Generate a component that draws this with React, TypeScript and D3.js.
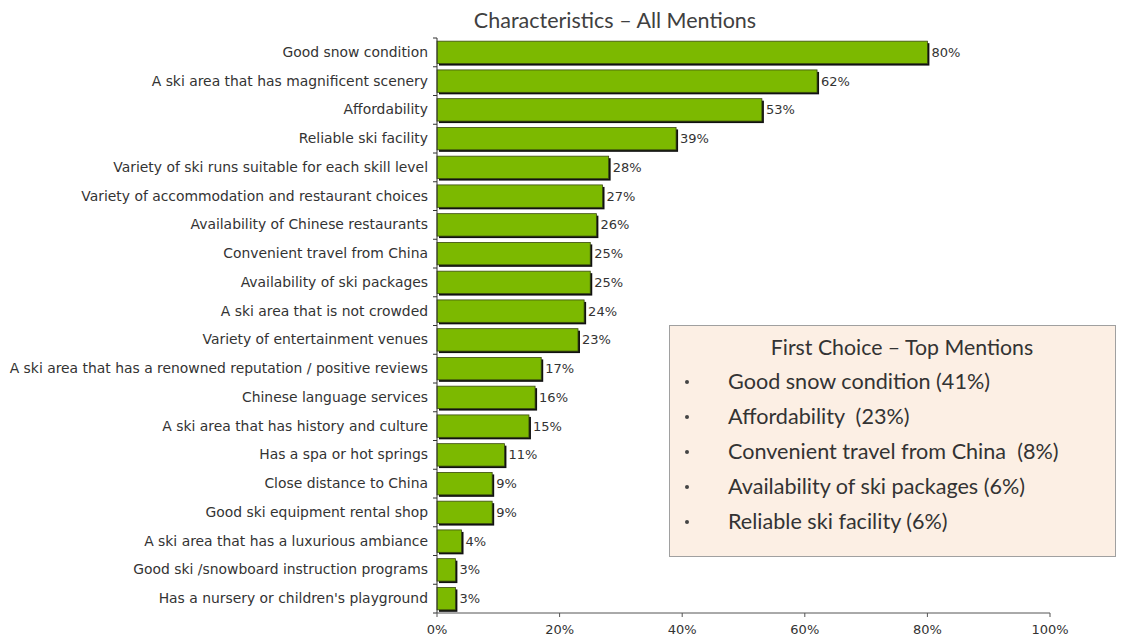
import React from "react";
import * as d3 from "d3";

const categories = [
  "Good snow condition",
  "A ski area that has magnificent scenery",
  "Affordability",
  "Reliable ski facility",
  "Variety of ski runs suitable for each skill level",
  "Variety of accommodation and restaurant choices",
  "Availability of Chinese restaurants",
  "Convenient travel from China",
  "Availability of ski packages",
  "A ski area that is not crowded",
  "Variety of entertainment venues",
  "A ski area that has a renowned reputation / positive reviews",
  "Chinese language services",
  "A ski area that has history and culture",
  "Has a spa or hot springs",
  "Close distance to China",
  "Good ski equipment rental shop",
  "A ski area that has a luxurious ambiance",
  "Good ski /snowboard instruction programs",
  "Has a nursery or children's playground",
];
const values = [80, 62, 53, 39, 28, 27, 26, 25, 25, 24, 23, 17, 16, 15, 11, 9, 9, 4, 3, 3];
const xTicks = [0, 20, 40, 60, 80, 100];
const title = "Characteristics \u2013 All Mentions";
const boxTitle = "First Choice \u2013 Top Mentions";
const boxItems = [
  "Good snow condition (41%)",
  "Affordability  (23%)",
  "Convenient travel from China  (8%)",
  "Availability of ski packages (6%)",
  "Reliable ski facility (6%)",
];

export default function App() {
  const W = 1126, H = 637;
  const x = d3.scaleLinear().domain([0, 100]).range([437, 1050]);
  const y = d3.scaleBand<string>().domain(categories).range([38, 613]).paddingInner(0.22).paddingOuter(0.11);
  const step = y.step();
  const font = "'DejaVu Sans', Verdana, sans-serif";
  const boxFont = "Lato, 'Open Sans', sans-serif";
  return (
    <svg width={W} height={H} style={{ position: "absolute", left: 0, top: 0, background: "#fff" }}>
      <text x={615} y={28} textAnchor="middle" fontFamily={boxFont} fontSize={21.5} fill="#404040">{title}</text>
      {categories.map((c, i) => {
        const y0 = y(c)!;
        const bw = x(values[i]) - x(0);
        return (
          <g key={c}>
            <rect x={x(0) + 2} y={y0 + 2} width={bw} height={y.bandwidth()} fill="#111" />
            <rect x={x(0)} y={y0} width={bw} height={y.bandwidth()} fill="#7cb900" stroke="#3a4a10" strokeWidth={0.8} />
            <text x={x(values[i]) + 4} y={y0 + y.bandwidth() / 2 + 4.5} fontFamily={font} fontSize={13} fill="#333">{values[i]}%</text>
            <text x={428} y={y0 + y.bandwidth() / 2 + 4.5} textAnchor="end" fontFamily={font} fontSize={13.9} fill="#333">{c}</text>
          </g>
        );
      })}
      <line x1={x(0)} x2={x(0)} y1={38} y2={613} stroke="#333" strokeWidth={1} />
      {d3.range(categories.length + 1).map((k) => (
        <line key={k} x1={x(0) - 4} x2={x(0)} y1={38 + k * step} y2={38 + k * step} stroke="#333" />
      ))}
      <line x1={x(0)} x2={x(100)} y1={613} y2={613} stroke="#555" strokeWidth={1} />
      {xTicks.map((t) => (
        <g key={t}>
          <line x1={x(t)} x2={x(t)} y1={613} y2={617} stroke="#555" />
          <text x={x(t)} y={634} textAnchor="middle" fontFamily={font} fontSize={13} fill="#333">{t}%</text>
        </g>
      ))}
      <rect x={669.5} y={325.5} width={446} height={231} fill="#fcefe4" stroke="#a0a0a0" strokeWidth={1} />
      <text x={902} y={355} textAnchor="middle" fontFamily={boxFont} fontSize={21.3} fill="#333">{boxTitle}</text>
      {boxItems.map((t, i) => (
        <g key={t}>
          <circle cx={687} cy={382 + i * 35} r={2} fill="#444" />
          <text x={728} y={389 + i * 35} fontFamily={boxFont} fontSize={21.6} fill="#333" style={{ whiteSpace: "pre" }}>{t}</text>
        </g>
      ))}
    </svg>
  );
}
